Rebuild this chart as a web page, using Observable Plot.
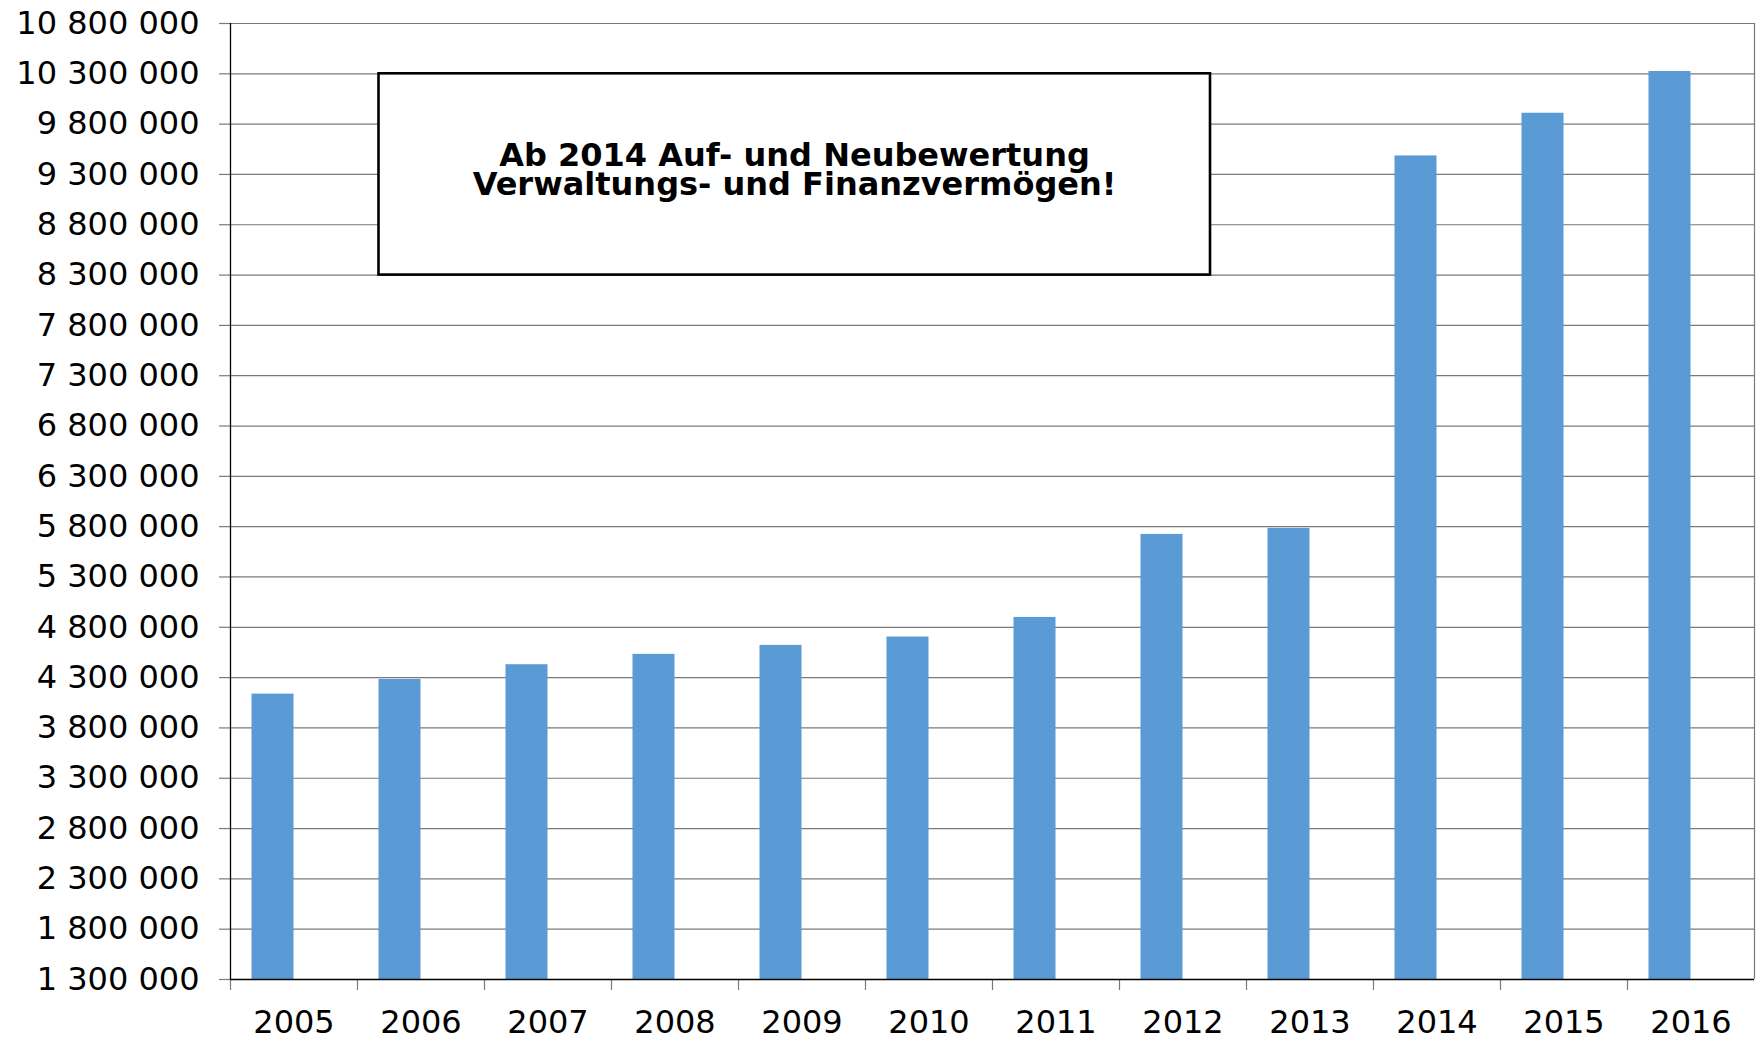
<!DOCTYPE html>
<html><head><meta charset="utf-8">
<script src="https://cdn.jsdelivr.net/npm/d3@7"></script>
<script src="https://cdn.jsdelivr.net/npm/@observablehq/plot@0.6"></script>
<style>body{margin:0;background:#fff}#chart svg{display:block}</style>
</head><body><div id="chart"></div>
<script>
const years = ["2005","2006","2007","2008","2009","2010","2011","2012","2013","2014","2015","2016"];
const values = [4136000, 4282000, 4428000, 4531000, 4620000, 4703000, 4898000, 5723000, 5783000, 9484000, 9908000, 10323000];
const yMin = 1300000, yMax = 10800000;
const yTicks = d3.range(yMin, yMax + 1, 500000);
const noteLines = ["Ab 2014 Auf- und Neubewertung", "Verwaltungs- und Finanzvermögen!"];
const noteBox = [{x1: "2006", x2: "2012", y1: 8300000, y2: 10300000}];
const noteText = [{x: "2009", y: 9330000, text: noteLines.join("\n")}];

const data = years.map((year, i) => ({year, value: values[i]}));
const fmt = d => d3.format(",d")(d).replace(/,/g, " ");

const W = 1760, H = 1040, mL = 230, mR = 6, mT = 23, mB = 61;
const band = (W - mL - mR) / years.length;
const gridColor = "#7a7a7a";

const chart = Plot.plot({
  width: W, height: H,
  marginLeft: mL, marginRight: mR, marginTop: mT, marginBottom: mB,
  style: {fontFamily: "'DejaVu Sans', Verdana, sans-serif", fontSize: "32px", color: "#000", background: "#fff"},
  x: {domain: years, padding: 0, label: null},
  y: {domain: [yMin, yMax], label: null},
  marks: [
    Plot.gridY(yTicks, {stroke: gridColor, strokeOpacity: 1, strokeWidth: 1.2}),
    Plot.axisY(yTicks, {tickSize: 11, tickPadding: 20, tickFormat: fmt, stroke: gridColor, strokeWidth: 1.2, label: null, fontSize: 32}),
    Plot.ruleX([years[years.length - 1]], {dx: band / 2, stroke: gridColor, strokeWidth: 1.2}),
    Plot.barY(data, {x: "year", y1: yMin, y2: "value", fill: "#5B9BD5", insetLeft: band / 2 - 42, insetRight: band / 2}),
    Plot.axisX({tickSize: 11, tickFormat: () => "", dx: -band / 2, stroke: gridColor, strokeWidth: 1.2, label: null}),
    Plot.axisX({tickSize: 0, tickPadding: 31, label: null, fontSize: 32}),
    Plot.ruleY([yMin], {stroke: "#000", strokeWidth: 1.3}),
    Plot.ruleX([years[0]], {dx: -band / 2, stroke: "#000", strokeWidth: 1.3}),
    Plot.rect(noteBox, {x1: "x1", x2: "x2", y1: "y1", y2: "y2", fill: "#fff", stroke: "#000", strokeWidth: 2.6, insetLeft: band / 2 - 42, insetRight: 36}),
    Plot.text(noteText, {x: "x", y: "y", text: "text", fontSize: 32, fontWeight: "bold", lineHeight: 0.9, dx: -7.5, fill: "#000"})
  ]
});
document.getElementById("chart").appendChild(chart);
</script>
</body></html>
